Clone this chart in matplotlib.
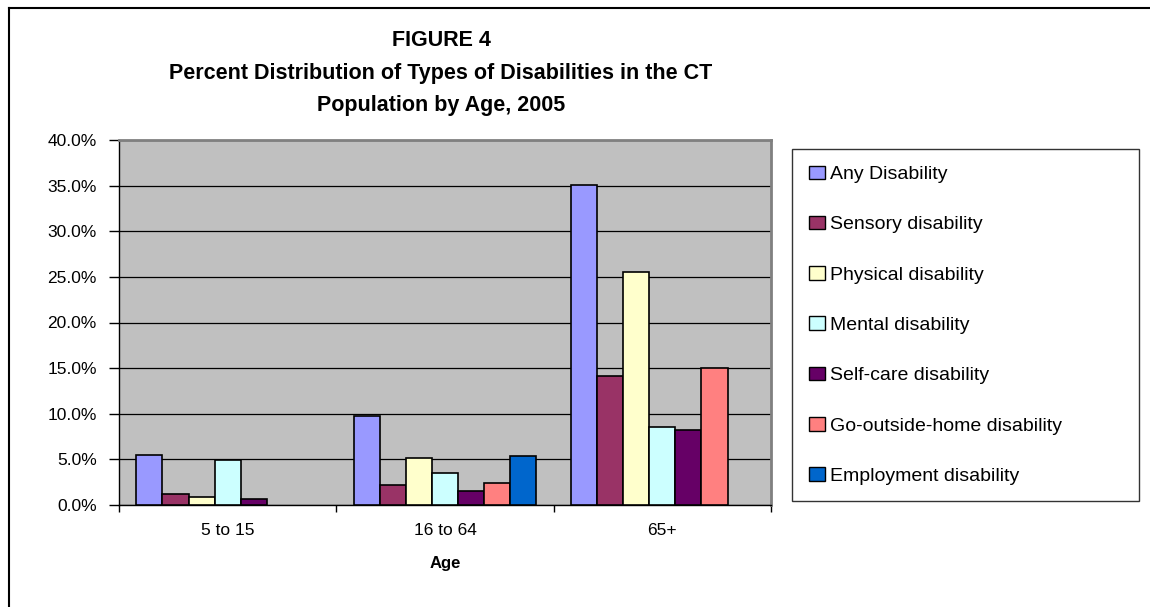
"""
Disability chart - percent distribution of disability types in the
CT population by age group, 2005 (Figure 4).
"""

import numpy as np
import matplotlib
matplotlib.use('Agg')
import matplotlib.pyplot as plt
from matplotlib.lines import Line2D
from matplotlib.patches import Patch
from matplotlib.ticker import PercentFormatter, MultipleLocator, FixedLocator


# Age groups on the x axis
age_groups = ['5 to 15', '16 to 64', '65+']

# Percent of population per disability type (NaN = no bar)
any_disability = [5.5, 9.8, 35.1]
sensory_disability = [1.2, 2.2, 14.1]
physical_disability = [0.9, 5.2, 25.5]
mental_disability = [4.9, 3.5, 8.6]
self_care_disability = [0.7, 1.5, 8.2]
go_outside_disability = [np.nan, 2.4, 15.0]
employment_disability = [np.nan, 5.4, np.nan]

series_names = [
    'Any Disability',
    'Sensory disability',
    'Physical disability',
    'Mental disability',
    'Self-care disability',
    'Go-outside-home disability',
    'Employment disability',
]

# Classic Excel palette
series_colors = ['#9999FF', '#993366', '#FFFFCC', '#CCFFFF',
                 '#660066', '#FF8080', '#0066CC']

W, H = 1150, 607


def fx(px):
    return px / W


def fy(py):
    return 1 - py / H


def make_chart():
    plt.rcParams['font.family'] = ['Liberation Sans', 'DejaVu Sans']

    fig = plt.figure(figsize=(W / 100, H / 100), dpi=100)
    fig.patch.set_facecolor('white')

    # plot area
    ax = fig.add_axes([fx(119), fy(505), fx(771) - fx(119), fy(140) - fy(505)])
    ax.set_facecolor('#C0C0C0')

    values = [any_disability, sensory_disability, physical_disability,
              mental_disability, self_care_disability, go_outside_disability,
              employment_disability]

    x = np.arange(len(age_groups))
    bar_w = 0.12
    n = len(values)
    for i, (vals, color) in enumerate(zip(values, series_colors)):
        offset = (i - (n - 1) / 2) * bar_w
        ax.bar(x + offset, vals, width=bar_w, color=color,
               edgecolor='black', linewidth=1.2, zorder=3)

    ax.set_xlim(-0.5, len(age_groups) - 0.5)
    ax.set_ylim(0, 40)

    # y axis
    ax.yaxis.set_major_locator(MultipleLocator(5))
    ax.yaxis.set_major_formatter(PercentFormatter(100, decimals=1))
    ax.yaxis.grid(True, color='black', linewidth=0.9, zorder=1)
    ax.set_axisbelow(True)
    ax.tick_params(axis='y', length=7, width=1, pad=9, labelsize=12.5,
                   direction='out', color='black')

    # x axis: labels centred, tick marks between groups
    ax.set_xticks(x)
    ax.set_xticklabels(age_groups)
    ax.xaxis.set_minor_locator(FixedLocator(np.arange(-0.5, len(age_groups), 1)))
    ax.tick_params(axis='x', which='major', length=0, pad=13, labelsize=12.5)
    ax.tick_params(axis='x', which='minor', length=5, width=1,
                   direction='out', color='black')

    for side in ['left', 'bottom']:
        ax.spines[side].set_color('black')
        ax.spines[side].set_linewidth(1)
    for side in ['top', 'right']:
        ax.spines[side].set_color('#808080')
        ax.spines[side].set_linewidth(2)

    ax.set_xlabel('Age', fontsize=12, fontweight='bold', labelpad=13)

    # title
    title_lines = ['FIGURE 4',
                   'Percent Distribution of Types of Disabilities in the CT',
                   'Population by Age, 2005']
    for line, ypix in zip(title_lines, [40, 73, 105]):
        fig.text(fx(441), fy(ypix), line, ha='center', va='center',
                 fontsize=15.5, fontweight='bold')

    # legend
    handles = [Patch(facecolor=c, edgecolor='black', linewidth=1)
               for c in series_colors]
    leg = fig.legend(handles, series_names, loc='upper left',
                     bbox_to_anchor=(fx(792), fy(505), fx(1139) - fx(792),
                                     fy(149) - fy(505)),
                     bbox_transform=fig.transFigure, mode='expand',
                     fontsize=14, frameon=True, fancybox=False,
                     edgecolor='black', labelspacing=1.68, borderpad=0.85,
                     handlelength=0.85, handleheight=0.7, handletextpad=0.25,
                     borderaxespad=0)
    leg.get_frame().set_linewidth(1)

    # outer chart border (left and top edges visible)
    fig.add_artist(Line2D([fx(8.5), fx(8.5)], [0, fy(7.5)],
                          color='black', linewidth=1.5,
                          transform=fig.transFigure))
    fig.add_artist(Line2D([fx(8.5), 1], [fy(7.5), fy(7.5)],
                          color='black', linewidth=1.5,
                          transform=fig.transFigure))

    fig.savefig('out.png', dpi=100)
    plt.close(fig)


if __name__ == '__main__':
    make_chart()
